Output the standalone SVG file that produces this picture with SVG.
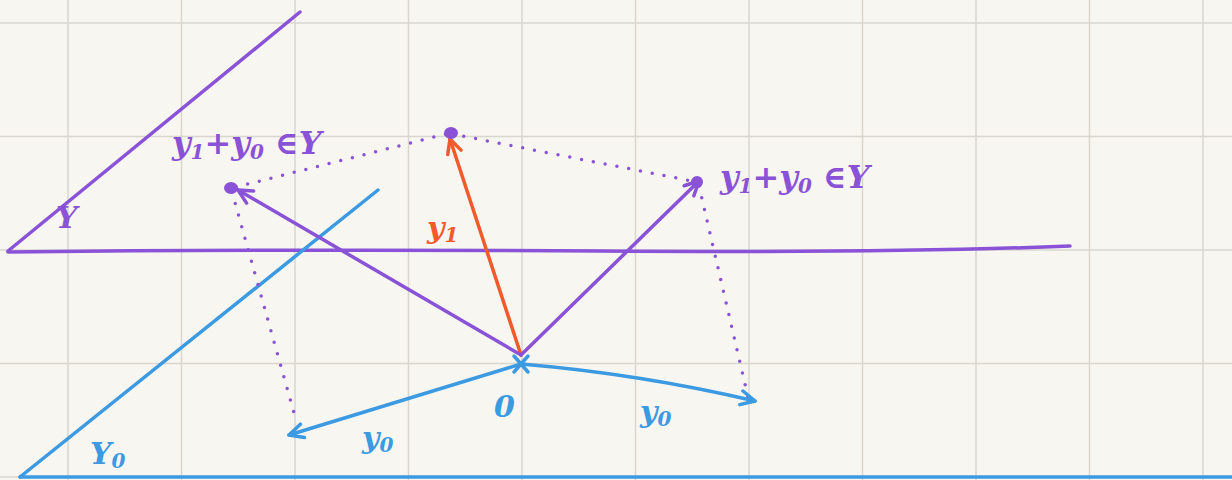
<svg xmlns="http://www.w3.org/2000/svg" width="1232" height="480" viewBox="0 0 1232 480">
<defs>
<style>
.grid line{stroke:#d9d6cf;stroke-width:1.5}
.p{stroke:#8a52d6;fill:none;stroke-width:3.5;stroke-linecap:round;stroke-linejoin:round}
.o{stroke:#f15a2b;fill:none;stroke-width:3.5;stroke-linecap:round;stroke-linejoin:round}
.b{stroke:#3b9ae1;fill:none;stroke-width:3.5;stroke-linecap:round;stroke-linejoin:round}
.dot{stroke:#8a52d6;fill:none;stroke-width:3.5;stroke-linecap:round;stroke-dasharray:0 12}
.t{font-family:"DejaVu Serif","Liberation Serif",serif;font-style:italic;font-weight:bold}
.tp{fill:#8a52d6}.to{fill:#f15a2b}.tb{fill:#3b9ae1}
</style>
<marker id="ap" viewBox="-16 -9 18 18" markerWidth="18" markerHeight="18" refX="0" refY="0" orient="auto" markerUnits="userSpaceOnUse"><path d="M-14 -7 L0 0 L-14 7" fill="none" stroke="#8a52d6" stroke-width="3.5" stroke-linecap="round" stroke-linejoin="round"/></marker>
<marker id="ao" viewBox="-16 -9 18 18" markerWidth="18" markerHeight="18" refX="0" refY="0" orient="auto" markerUnits="userSpaceOnUse"><path d="M-14 -7 L0 0 L-14 7" fill="none" stroke="#f15a2b" stroke-width="3.5" stroke-linecap="round" stroke-linejoin="round"/></marker>
<marker id="ab" viewBox="-16 -9 18 18" markerWidth="18" markerHeight="18" refX="0" refY="0" orient="auto" markerUnits="userSpaceOnUse"><path d="M-14 -7 L0 0 L-14 7" fill="none" stroke="#3b9ae1" stroke-width="3.5" stroke-linecap="round" stroke-linejoin="round"/></marker>
</defs>
<rect width="1232" height="480" fill="#f8f6f1"/>
<g class="grid">
<line x1="68" y1="0" x2="68" y2="480"/><line x1="181.5" y1="0" x2="181.5" y2="480"/><line x1="295" y1="0" x2="295" y2="480"/><line x1="408.5" y1="0" x2="408.5" y2="480"/><line x1="522" y1="0" x2="522" y2="480"/><line x1="635.5" y1="0" x2="635.5" y2="480"/><line x1="749" y1="0" x2="749" y2="480"/><line x1="862.5" y1="0" x2="862.5" y2="480"/><line x1="976" y1="0" x2="976" y2="480"/><line x1="1089.5" y1="0" x2="1089.5" y2="480"/><line x1="1203" y1="0" x2="1203" y2="480"/>
<line x1="0" y1="23" x2="1232" y2="23"/><line x1="0" y1="136.5" x2="1232" y2="136.5"/><line x1="0" y1="250" x2="1232" y2="250"/><line x1="0" y1="363.5" x2="1232" y2="363.5"/><line x1="0" y1="477" x2="1232" y2="477"/>
</g>
<g id="subspace-Y">
<path class="p" d="M8 251 L300 12"/>
<path class="p" d="M8 252 Q300 249 600 251 T1070 246"/>
<text class="t tp" x="56" y="228" font-size="30">Y</text>
</g>
<g id="subspace-Y0">
<path class="b" d="M20 477 L378 190"/>
<path class="b" d="M20 477 L1232 477"/>
<text class="t tb" x="90" y="464" font-size="30">Y<tspan font-size="20" dy="4">0</tspan></text>
</g>
<g id="connectors">
<path class="dot" d="M236 187 L450 133"/>
<path class="dot" d="M452 134 L697 182"/>
<path class="dot" d="M232 192 L296 420"/>
<path class="dot" d="M699 186 L748 397"/>
<path class="o" d="M521 355 L450 139" marker-end="url(#ao)"/>
<path class="p" d="M521 355 L238 190" marker-end="url(#ap)"/>
<path class="p" d="M521 355 L699 181" marker-end="url(#ap)"/>
<path class="b" d="M521 364 L289 435" marker-end="url(#ab)"/>
<path class="b" d="M521 364 Q640 374 755 401" marker-end="url(#ab)"/>
</g>
<g id="origin">
<path class="b" d="M514 356 L528 372 M528 356 L514 372"/>
<text class="t tb" x="494" y="417" font-size="30">0</text>
</g>
<g id="point-y1">
<ellipse cx="451" cy="133" rx="7" ry="6" fill="#8a52d6"/>
<text class="t to" x="427" y="238" font-size="30">y<tspan font-size="20" dy="4">1</tspan></text>
</g>
<g id="point-left">
<ellipse cx="231" cy="188" rx="7" ry="6" fill="#8a52d6"/>
<text class="t tp" x="172" y="154" font-size="32">y<tspan font-size="20" dy="5">1</tspan><tspan dy="-5">+y</tspan><tspan font-size="20" dy="5">0</tspan><tspan dy="-5"> ∈Y</tspan></text>
</g>
<g id="point-right">
<ellipse cx="697" cy="182" rx="6" ry="6" fill="#8a52d6"/>
<text class="t tp" x="720" y="188" font-size="32">y<tspan font-size="20" dy="5">1</tspan><tspan dy="-5">+y</tspan><tspan font-size="20" dy="5">0</tspan><tspan dy="-5"> ∈Y</tspan></text>
</g>
<g id="label-y0-left"><text class="t tb" x="362" y="448" font-size="30">y<tspan font-size="20" dy="4">0</tspan></text></g>
<g id="label-y0-right"><text class="t tb" x="640" y="422" font-size="30">y<tspan font-size="20" dy="4">0</tspan></text></g>
</svg>
